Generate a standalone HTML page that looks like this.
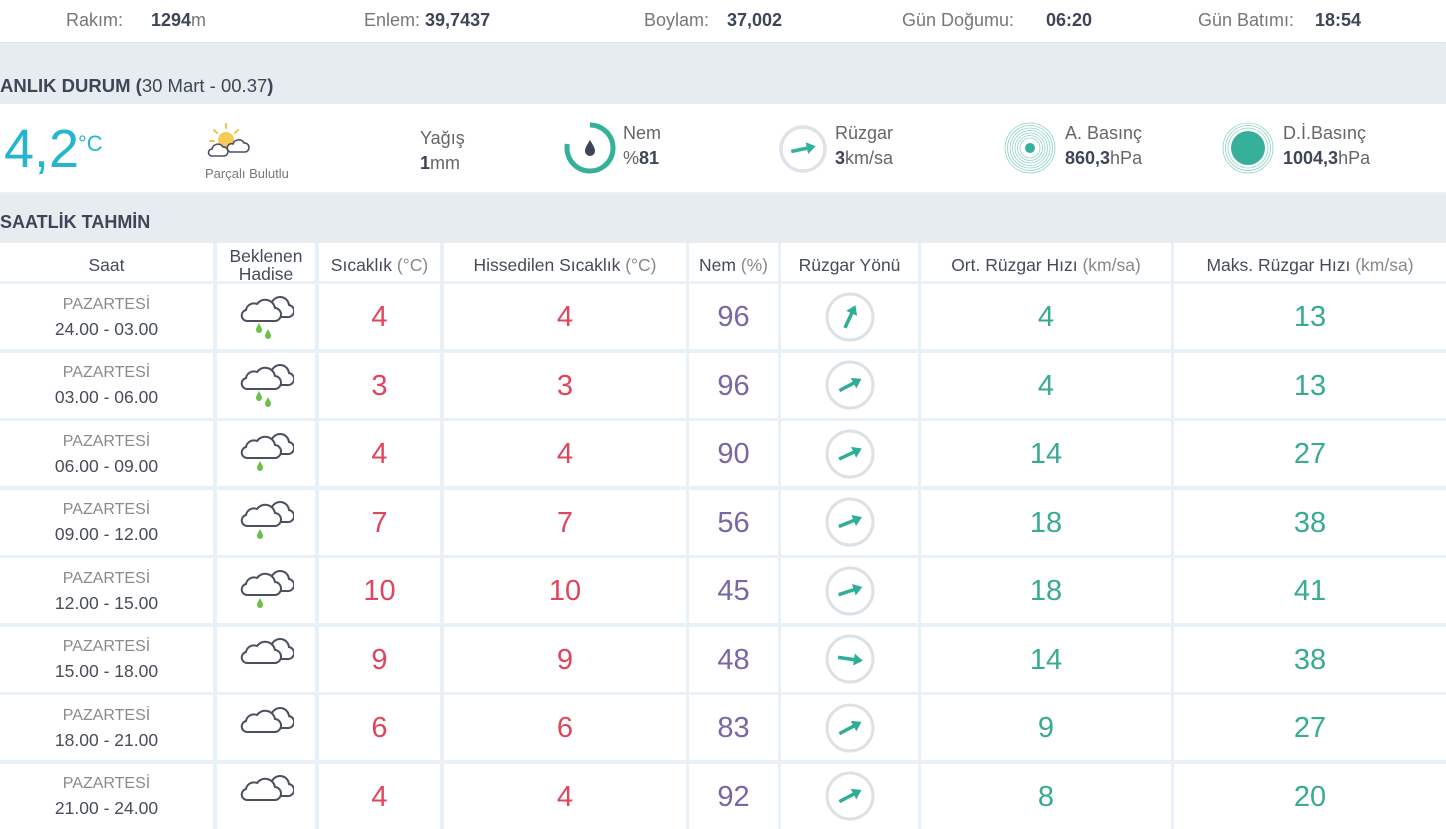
<!DOCTYPE html>
<html><head><meta charset="utf-8">
<style>
*{margin:0;padding:0;box-sizing:border-box}
body{width:1446px;height:828px;overflow:hidden;background:#e8f1f8;font-family:"Liberation Sans",Arial,sans-serif;position:relative;color:#444}
.abs{position:absolute}
.top{left:0;top:0;width:1446px;height:42px;background:#fff;box-shadow:0 1px 3px rgba(0,0,0,0.08)}
.tl{position:absolute;top:10px;font-size:18px;color:#777;white-space:nowrap}
.tl b{color:#3d4557}
.band{left:0;width:1446px;background:#e6ecf0}
.ttl{position:absolute;left:0;font-size:18.5px;font-weight:bold;color:#3d4557;white-space:nowrap}
.ttl span{font-weight:normal}
.panel{left:0;top:104px;width:1446px;height:88px;background:#fff}
.lbl{position:absolute;font-size:18px;color:#666;white-space:nowrap;line-height:25px}
.lbl b{color:#3d4557}
.cell{position:absolute;background:#fff;display:flex;align-items:center;justify-content:center;text-align:center}
.hd{font-size:17.5px;color:#454b57;line-height:18px;padding-top:5px}
.hd i{font-style:normal;color:#888}
.num{font-size:29px;padding-top:2px}
.red{color:#e0455d}.pur{color:#7866a6}.grn{color:#38ab91}
.day{font-size:16px;color:#8a8a8a;line-height:24px}
.tm{font-size:17.5px;color:#474d58;line-height:24px}
</style></head><body>

<div class="abs top"></div>
<div class="tl" style="left:66px">Rakım:</div><div class="tl" style="left:151px"><b>1294</b>m</div>
<div class="tl" style="left:364px">Enlem: <b>39,7437</b></div>
<div class="tl" style="left:644px">Boylam:</div><div class="tl" style="left:727px"><b>37,002</b></div>
<div class="tl" style="left:902px">Gün Doğumu:</div><div class="tl" style="left:1046px"><b>06:20</b></div>
<div class="tl" style="left:1198px">Gün Batımı:</div><div class="tl" style="left:1315px"><b>18:54</b></div>

<div class="abs band" style="top:43px;height:61px"></div>
<div class="ttl" style="top:75px">ANLIK DURUM (<span>30 Mart - 00.37</span>)</div>

<div class="abs panel"></div>
<div class="abs" style="left:4px;top:117px;font-size:54px;color:#25b5d0;line-height:64px">4,2</div>
<div class="abs" style="left:78px;top:131px;font-size:22px;color:#25b5d0">°C</div>

<svg class="abs" style="left:204px;top:122px" width="50" height="42" viewBox="0 0 50 42">
 <g stroke="#f5c04a" stroke-width="2" stroke-linecap="round">
  <line x1="22" y1="2" x2="22" y2="6"/><line x1="10" y1="8" x2="13" y2="11"/><line x1="34" y1="8" x2="31" y2="11"/><line x1="6" y1="19" x2="10" y2="19"/>
 </g>
 <circle cx="22" cy="18" r="8" fill="#f7c956"/>
 <path d="M8 34 H20 A4.5 4.5 0 0 0 19 25 A6 6 0 0 0 8 27 A3.5 3.5 0 0 0 8 34Z" fill="#fff" stroke="#4a5060" stroke-width="1.6"/>
 <path d="M26 30 H41 A4.5 4.5 0 0 0 40 21 A6 6 0 0 0 29 22 A4 4 0 0 0 26 30Z" fill="#fff" stroke="#4a5060" stroke-width="1.6"/>
</svg>
<div class="abs" style="left:205px;top:166px;font-size:13px;color:#777">Parçalı Bulutlu</div>

<div class="lbl" style="left:420px;top:126px">Yağış</div>
<div class="lbl" style="left:420px;top:151px"><b>1</b>mm</div>

<svg class="abs" style="left:560px;top:118px" width="60" height="60" viewBox="560 118 60 60">
 <path d="M590 125 A23 23 0 1 1 567.35 144" fill="none" stroke="#35b09a" stroke-width="5"/>
 <path d="M590 140 C593 145 595 148 595 151 A5 5 0 0 1 585 151 C585 148 587 145 590 140Z" fill="#3d4557"/>
</svg>
<div class="lbl" style="left:623px;top:121px">Nem</div>
<div class="lbl" style="left:623px;top:146px">%<b>81</b></div>

<svg class="abs" style="left:776px;top:121px" width="56" height="56" viewBox="0 0 56 56">
 <circle cx="27" cy="28" r="22" fill="none" stroke="#dfe3e7" stroke-width="3.5"/>
 <g transform="translate(27 28) rotate(-12)">
  <line x1="-12" y1="0" x2="6" y2="0" stroke="#35b09a" stroke-width="3.5"/>
  <polygon points="13,0 4,-6 4,6" fill="#35b09a"/>
 </g>
</svg>
<div class="lbl" style="left:835px;top:121px">Rüzgar</div>
<div class="lbl" style="left:835px;top:146px"><b>3</b>km/sa</div>

<svg class="abs" style="left:1002px;top:121px" width="56" height="56" viewBox="0 0 56 56">
 <g fill="none" stroke="#8fd3c4" stroke-width="0.8">
  <circle cx="28" cy="27" r="25"/><circle cx="28" cy="27" r="22.5"/><circle cx="28" cy="27" r="20"/><circle cx="28" cy="27" r="17.5"/><circle cx="28" cy="27" r="15"/><circle cx="28" cy="27" r="12.5"/><circle cx="28" cy="27" r="10"/>
 </g>
 <circle cx="28" cy="27" r="5" fill="#35b09a"/>
</svg>
<div class="lbl" style="left:1065px;top:121px">A. Basınç</div>
<div class="lbl" style="left:1065px;top:146px"><b>860,3</b>hPa</div>

<svg class="abs" style="left:1220px;top:121px" width="56" height="56" viewBox="0 0 56 56">
 <g fill="none" stroke="#8fd3c4" stroke-width="0.8">
  <circle cx="28" cy="27" r="25"/><circle cx="28" cy="27" r="22.5"/><circle cx="28" cy="27" r="20"/>
 </g>
 <circle cx="28" cy="27" r="17" fill="#35b09a"/>
</svg>
<div class="lbl" style="left:1283px;top:121px">D.İ.Basınç</div>
<div class="lbl" style="left:1283px;top:146px"><b>1004,3</b>hPa</div>

<div class="abs band" style="top:193px;height:50px"></div>
<div class="ttl" style="top:212px;font-size:18px">SAATLİK TAHMİN</div>

<!-- header -->
<div class="cell hd" style="left:0;top:243px;width:213px;height:38px">Saat</div>
<div class="cell hd" style="left:217px;top:243px;width:98px;height:38px">Beklenen<br>Hadise</div>
<div class="cell hd" style="left:319px;top:243px;width:121px;height:38px">Sıcaklık&nbsp;<i>(°C)</i></div>
<div class="cell hd" style="left:444px;top:243px;width:242px;height:38px">Hissedilen Sıcaklık&nbsp;<i>(°C)</i></div>
<div class="cell hd" style="left:689px;top:243px;width:89px;height:38px">Nem&nbsp;<i>(%)</i></div>
<div class="cell hd" style="left:781px;top:243px;width:137px;height:38px">Rüzgar Yönü</div>
<div class="cell hd" style="left:921px;top:243px;width:250px;height:38px">Ort. Rüzgar Hızı&nbsp;<i>(km/sa)</i></div>
<div class="cell hd" style="left:1174px;top:243px;width:272px;height:38px">Maks. Rüzgar Hızı&nbsp;<i>(km/sa)</i></div>

<!-- Row 1 -->
<div class="cell" style="left:0;top:284px;width:213px;height:65px;flex-direction:column"><div class="day">PAZARTESİ</div><div class="tm">24.00 - 03.00</div></div>
<div class="cell" style="left:217px;top:284px;width:98px;height:65px"><svg width="56" height="48" viewBox="0 0 56 48"><path d="M36 24 H49 A6 6 0 0 0 51 12 A9 9 0 0 0 34 9 A7 7 0 0 0 28 15 L30 24Z" fill="#fff" stroke="#4a5060" stroke-width="2"/><path d="M10 28 H36 A6.5 6.5 0 0 0 37 15 A10 10 0 0 0 19 11 A8 8 0 0 0 8 17 A5.6 5.6 0 0 0 10 28Z" fill="#fff" stroke="#4a5060" stroke-width="2"/><path d="M21 30 C23 34 24 35 24 37 A3 3 0 0 1 18 37 C18 35 19 34 21 30Z" fill="#6cc04a"/><path d="M30 36 C32 40 33 41 33 43 A3 3 0 0 1 27 43 C27 41 28 40 30 36Z" fill="#6cc04a"/></svg></div>
<div class="cell num red" style="left:319px;top:284px;width:121px;height:65px">4</div>
<div class="cell num red" style="left:444px;top:284px;width:242px;height:65px">4</div>
<div class="cell num pur" style="left:689px;top:284px;width:89px;height:65px">96</div>
<div class="cell" style="left:781px;top:284px;width:137px;height:65px"><svg width="52" height="52" viewBox="0 0 52 52"><circle cx="26" cy="26" r="23" fill="none" stroke="#dce1e5" stroke-width="3"/><g transform="translate(26 26) rotate(-65)"><line x1="-12" y1="0" x2="6" y2="0" stroke="#2fae96" stroke-width="3.5"/><polygon points="13,0 4,-6 4,6" fill="#2fae96"/></g></svg></div>
<div class="cell num grn" style="left:921px;top:284px;width:250px;height:65px">4</div>
<div class="cell num grn" style="left:1174px;top:284px;width:272px;height:65px">13</div>

<!-- Row 2 -->
<div class="cell" style="left:0;top:352.5px;width:213px;height:65px;flex-direction:column"><div class="day">PAZARTESİ</div><div class="tm">03.00 - 06.00</div></div>
<div class="cell" style="left:217px;top:352.5px;width:98px;height:65px"><svg width="56" height="48" viewBox="0 0 56 48"><path d="M36 24 H49 A6 6 0 0 0 51 12 A9 9 0 0 0 34 9 A7 7 0 0 0 28 15 L30 24Z" fill="#fff" stroke="#4a5060" stroke-width="2"/><path d="M10 28 H36 A6.5 6.5 0 0 0 37 15 A10 10 0 0 0 19 11 A8 8 0 0 0 8 17 A5.6 5.6 0 0 0 10 28Z" fill="#fff" stroke="#4a5060" stroke-width="2"/><path d="M21 30 C23 34 24 35 24 37 A3 3 0 0 1 18 37 C18 35 19 34 21 30Z" fill="#6cc04a"/><path d="M30 36 C32 40 33 41 33 43 A3 3 0 0 1 27 43 C27 41 28 40 30 36Z" fill="#6cc04a"/></svg></div>
<div class="cell num red" style="left:319px;top:352.5px;width:121px;height:65px">3</div>
<div class="cell num red" style="left:444px;top:352.5px;width:242px;height:65px">3</div>
<div class="cell num pur" style="left:689px;top:352.5px;width:89px;height:65px">96</div>
<div class="cell" style="left:781px;top:352.5px;width:137px;height:65px"><svg width="52" height="52" viewBox="0 0 52 52"><circle cx="26" cy="26" r="23" fill="none" stroke="#dce1e5" stroke-width="3"/><g transform="translate(26 26) rotate(-28)"><line x1="-12" y1="0" x2="6" y2="0" stroke="#2fae96" stroke-width="3.5"/><polygon points="13,0 4,-6 4,6" fill="#2fae96"/></g></svg></div>
<div class="cell num grn" style="left:921px;top:352.5px;width:250px;height:65px">4</div>
<div class="cell num grn" style="left:1174px;top:352.5px;width:272px;height:65px">13</div>

<!-- Row 3 -->
<div class="cell" style="left:0;top:421px;width:213px;height:65px;flex-direction:column"><div class="day">PAZARTESİ</div><div class="tm">06.00 - 09.00</div></div>
<div class="cell" style="left:217px;top:421px;width:98px;height:65px"><svg width="56" height="48" viewBox="0 0 56 48"><path d="M36 24 H49 A6 6 0 0 0 51 12 A9 9 0 0 0 34 9 A7 7 0 0 0 28 15 L30 24Z" fill="#fff" stroke="#4a5060" stroke-width="2"/><path d="M10 28 H36 A6.5 6.5 0 0 0 37 15 A10 10 0 0 0 19 11 A8 8 0 0 0 8 17 A5.6 5.6 0 0 0 10 28Z" fill="#fff" stroke="#4a5060" stroke-width="2"/><path d="M22 31 C24 35 25 36 25 38 A3 3 0 0 1 19 38 C19 36 20 35 22 31Z" fill="#6cc04a"/></svg></div>
<div class="cell num red" style="left:319px;top:421px;width:121px;height:65px">4</div>
<div class="cell num red" style="left:444px;top:421px;width:242px;height:65px">4</div>
<div class="cell num pur" style="left:689px;top:421px;width:89px;height:65px">90</div>
<div class="cell" style="left:781px;top:421px;width:137px;height:65px"><svg width="52" height="52" viewBox="0 0 52 52"><circle cx="26" cy="26" r="23" fill="none" stroke="#dce1e5" stroke-width="3"/><g transform="translate(26 26) rotate(-25)"><line x1="-12" y1="0" x2="6" y2="0" stroke="#2fae96" stroke-width="3.5"/><polygon points="13,0 4,-6 4,6" fill="#2fae96"/></g></svg></div>
<div class="cell num grn" style="left:921px;top:421px;width:250px;height:65px">14</div>
<div class="cell num grn" style="left:1174px;top:421px;width:272px;height:65px">27</div>

<!-- Row 4 -->
<div class="cell" style="left:0;top:489.5px;width:213px;height:65px;flex-direction:column"><div class="day">PAZARTESİ</div><div class="tm">09.00 - 12.00</div></div>
<div class="cell" style="left:217px;top:489.5px;width:98px;height:65px"><svg width="56" height="48" viewBox="0 0 56 48"><path d="M36 24 H49 A6 6 0 0 0 51 12 A9 9 0 0 0 34 9 A7 7 0 0 0 28 15 L30 24Z" fill="#fff" stroke="#4a5060" stroke-width="2"/><path d="M10 28 H36 A6.5 6.5 0 0 0 37 15 A10 10 0 0 0 19 11 A8 8 0 0 0 8 17 A5.6 5.6 0 0 0 10 28Z" fill="#fff" stroke="#4a5060" stroke-width="2"/><path d="M22 31 C24 35 25 36 25 38 A3 3 0 0 1 19 38 C19 36 20 35 22 31Z" fill="#6cc04a"/></svg></div>
<div class="cell num red" style="left:319px;top:489.5px;width:121px;height:65px">7</div>
<div class="cell num red" style="left:444px;top:489.5px;width:242px;height:65px">7</div>
<div class="cell num pur" style="left:689px;top:489.5px;width:89px;height:65px">56</div>
<div class="cell" style="left:781px;top:489.5px;width:137px;height:65px"><svg width="52" height="52" viewBox="0 0 52 52"><circle cx="26" cy="26" r="23" fill="none" stroke="#dce1e5" stroke-width="3"/><g transform="translate(26 26) rotate(-22)"><line x1="-12" y1="0" x2="6" y2="0" stroke="#2fae96" stroke-width="3.5"/><polygon points="13,0 4,-6 4,6" fill="#2fae96"/></g></svg></div>
<div class="cell num grn" style="left:921px;top:489.5px;width:250px;height:65px">18</div>
<div class="cell num grn" style="left:1174px;top:489.5px;width:272px;height:65px">38</div>

<!-- Row 5 -->
<div class="cell" style="left:0;top:558px;width:213px;height:65px;flex-direction:column"><div class="day">PAZARTESİ</div><div class="tm">12.00 - 15.00</div></div>
<div class="cell" style="left:217px;top:558px;width:98px;height:65px"><svg width="56" height="48" viewBox="0 0 56 48"><path d="M36 24 H49 A6 6 0 0 0 51 12 A9 9 0 0 0 34 9 A7 7 0 0 0 28 15 L30 24Z" fill="#fff" stroke="#4a5060" stroke-width="2"/><path d="M10 28 H36 A6.5 6.5 0 0 0 37 15 A10 10 0 0 0 19 11 A8 8 0 0 0 8 17 A5.6 5.6 0 0 0 10 28Z" fill="#fff" stroke="#4a5060" stroke-width="2"/><path d="M22 31 C24 35 25 36 25 38 A3 3 0 0 1 19 38 C19 36 20 35 22 31Z" fill="#6cc04a"/></svg></div>
<div class="cell num red" style="left:319px;top:558px;width:121px;height:65px">10</div>
<div class="cell num red" style="left:444px;top:558px;width:242px;height:65px">10</div>
<div class="cell num pur" style="left:689px;top:558px;width:89px;height:65px">45</div>
<div class="cell" style="left:781px;top:558px;width:137px;height:65px"><svg width="52" height="52" viewBox="0 0 52 52"><circle cx="26" cy="26" r="23" fill="none" stroke="#dce1e5" stroke-width="3"/><g transform="translate(26 26) rotate(-18)"><line x1="-12" y1="0" x2="6" y2="0" stroke="#2fae96" stroke-width="3.5"/><polygon points="13,0 4,-6 4,6" fill="#2fae96"/></g></svg></div>
<div class="cell num grn" style="left:921px;top:558px;width:250px;height:65px">18</div>
<div class="cell num grn" style="left:1174px;top:558px;width:272px;height:65px">41</div>

<!-- Row 6 -->
<div class="cell" style="left:0;top:626.5px;width:213px;height:65px;flex-direction:column"><div class="day">PAZARTESİ</div><div class="tm">15.00 - 18.00</div></div>
<div class="cell" style="left:217px;top:626.5px;width:98px;height:65px"><svg width="56" height="48" viewBox="0 0 56 48"><path d="M36 24 H49 A6 6 0 0 0 51 12 A9 9 0 0 0 34 9 A7 7 0 0 0 28 15 L30 24Z" fill="#fff" stroke="#4a5060" stroke-width="2"/><path d="M10 28 H36 A6.5 6.5 0 0 0 37 15 A10 10 0 0 0 19 11 A8 8 0 0 0 8 17 A5.6 5.6 0 0 0 10 28Z" fill="#fff" stroke="#4a5060" stroke-width="2"/></svg></div>
<div class="cell num red" style="left:319px;top:626.5px;width:121px;height:65px">9</div>
<div class="cell num red" style="left:444px;top:626.5px;width:242px;height:65px">9</div>
<div class="cell num pur" style="left:689px;top:626.5px;width:89px;height:65px">48</div>
<div class="cell" style="left:781px;top:626.5px;width:137px;height:65px"><svg width="52" height="52" viewBox="0 0 52 52"><circle cx="26" cy="26" r="23" fill="none" stroke="#dce1e5" stroke-width="3"/><g transform="translate(26 26) rotate(8)"><line x1="-12" y1="0" x2="6" y2="0" stroke="#2fae96" stroke-width="3.5"/><polygon points="13,0 4,-6 4,6" fill="#2fae96"/></g></svg></div>
<div class="cell num grn" style="left:921px;top:626.5px;width:250px;height:65px">14</div>
<div class="cell num grn" style="left:1174px;top:626.5px;width:272px;height:65px">38</div>

<!-- Row 7 -->
<div class="cell" style="left:0;top:695px;width:213px;height:65px;flex-direction:column"><div class="day">PAZARTESİ</div><div class="tm">18.00 - 21.00</div></div>
<div class="cell" style="left:217px;top:695px;width:98px;height:65px"><svg width="56" height="48" viewBox="0 0 56 48"><path d="M36 24 H49 A6 6 0 0 0 51 12 A9 9 0 0 0 34 9 A7 7 0 0 0 28 15 L30 24Z" fill="#fff" stroke="#4a5060" stroke-width="2"/><path d="M10 28 H36 A6.5 6.5 0 0 0 37 15 A10 10 0 0 0 19 11 A8 8 0 0 0 8 17 A5.6 5.6 0 0 0 10 28Z" fill="#fff" stroke="#4a5060" stroke-width="2"/></svg></div>
<div class="cell num red" style="left:319px;top:695px;width:121px;height:65px">6</div>
<div class="cell num red" style="left:444px;top:695px;width:242px;height:65px">6</div>
<div class="cell num pur" style="left:689px;top:695px;width:89px;height:65px">83</div>
<div class="cell" style="left:781px;top:695px;width:137px;height:65px"><svg width="52" height="52" viewBox="0 0 52 52"><circle cx="26" cy="26" r="23" fill="none" stroke="#dce1e5" stroke-width="3"/><g transform="translate(26 26) rotate(-28)"><line x1="-12" y1="0" x2="6" y2="0" stroke="#2fae96" stroke-width="3.5"/><polygon points="13,0 4,-6 4,6" fill="#2fae96"/></g></svg></div>
<div class="cell num grn" style="left:921px;top:695px;width:250px;height:65px">9</div>
<div class="cell num grn" style="left:1174px;top:695px;width:272px;height:65px">27</div>

<!-- Row 8 -->
<div class="cell" style="left:0;top:763.5px;width:213px;height:65px;flex-direction:column"><div class="day">PAZARTESİ</div><div class="tm">21.00 - 24.00</div></div>
<div class="cell" style="left:217px;top:763.5px;width:98px;height:65px"><svg width="56" height="48" viewBox="0 0 56 48"><path d="M36 24 H49 A6 6 0 0 0 51 12 A9 9 0 0 0 34 9 A7 7 0 0 0 28 15 L30 24Z" fill="#fff" stroke="#4a5060" stroke-width="2"/><path d="M10 28 H36 A6.5 6.5 0 0 0 37 15 A10 10 0 0 0 19 11 A8 8 0 0 0 8 17 A5.6 5.6 0 0 0 10 28Z" fill="#fff" stroke="#4a5060" stroke-width="2"/></svg></div>
<div class="cell num red" style="left:319px;top:763.5px;width:121px;height:65px">4</div>
<div class="cell num red" style="left:444px;top:763.5px;width:242px;height:65px">4</div>
<div class="cell num pur" style="left:689px;top:763.5px;width:89px;height:65px">92</div>
<div class="cell" style="left:781px;top:763.5px;width:137px;height:65px"><svg width="52" height="52" viewBox="0 0 52 52"><circle cx="26" cy="26" r="23" fill="none" stroke="#dce1e5" stroke-width="3"/><g transform="translate(26 26) rotate(-28)"><line x1="-12" y1="0" x2="6" y2="0" stroke="#2fae96" stroke-width="3.5"/><polygon points="13,0 4,-6 4,6" fill="#2fae96"/></g></svg></div>
<div class="cell num grn" style="left:921px;top:763.5px;width:250px;height:65px">8</div>
<div class="cell num grn" style="left:1174px;top:763.5px;width:272px;height:65px">20</div>

</body></html>
